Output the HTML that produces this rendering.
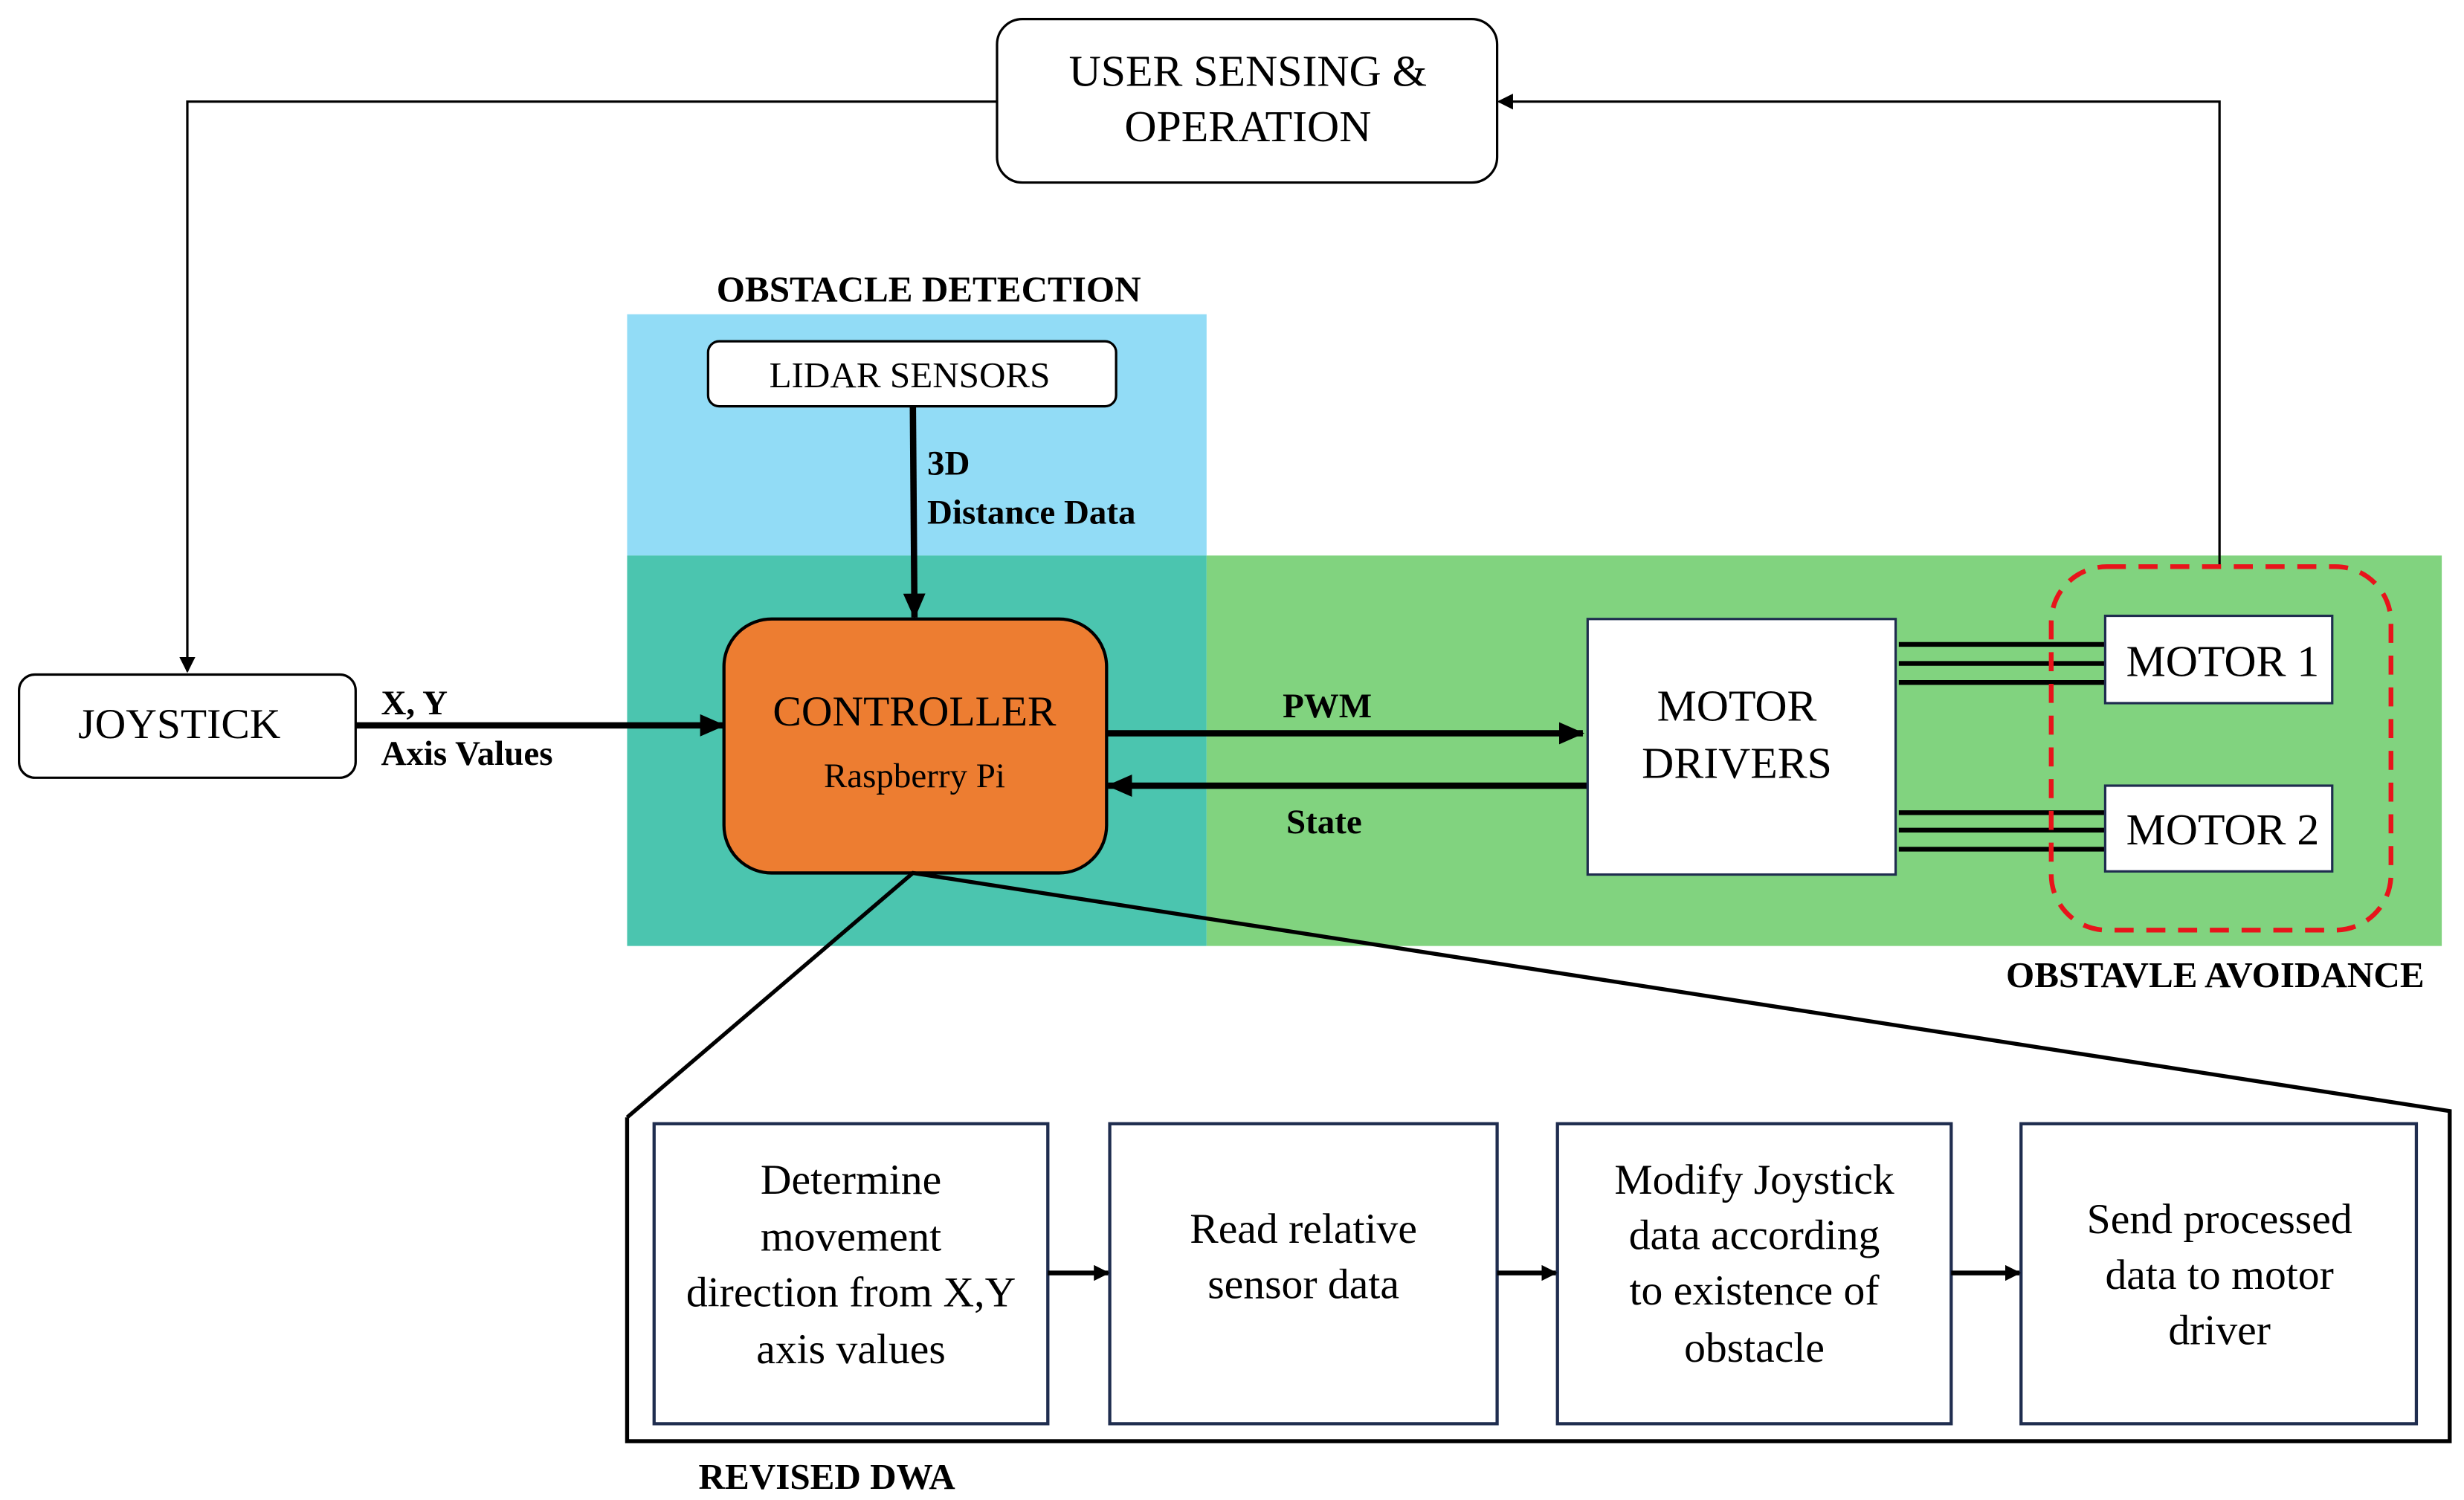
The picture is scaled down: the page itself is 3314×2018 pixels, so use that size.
<!DOCTYPE html>
<html><head><meta charset="utf-8"><style>html,body{margin:0;padding:0;background:#fff}svg{display:block}svg text{font-family:"Liberation Serif","Times New Roman",serif}</style></head>
<body>
<svg xmlns="http://www.w3.org/2000/svg" width="3314" height="2018" viewBox="0 0 1552 945.05" style="font-family:'Liberation Serif',serif">
<defs>
<marker id="a" markerWidth="10" markerHeight="10" refX="9" refY="5" orient="auto" markerUnits="userSpaceOnUse"><path d="M0,0 L10,5 L0,10 z" fill="#000"/></marker>
<marker id="b" markerWidth="16" markerHeight="14" refX="15" refY="7" orient="auto" markerUnits="userSpaceOnUse"><path d="M0,0 L16,7 L0,14 z" fill="#000"/></marker>
<marker id="c" markerWidth="10" markerHeight="10" refX="9" refY="5" orient="auto" markerUnits="userSpaceOnUse"><path d="M0,0 L10,5 L0,10 z" fill="#000"/></marker>
</defs>
<rect x="395" y="198" width="365" height="152" fill="#92DCF6"/>
<rect x="395" y="350" width="365" height="246" fill="#4BC5AF"/>
<rect x="760" y="350" width="778" height="246" fill="#81D37F"/>

<rect x="628" y="12" width="315" height="103" rx="16" fill="#fff" stroke="#000" stroke-width="1.5"/>
<text x="786" y="54" font-size="28" text-anchor="middle">USER SENSING &amp;</text>
<text x="786" y="89" font-size="28" text-anchor="middle">OPERATION</text>

<polyline points="628,64 118,64 118,423" fill="none" stroke="#000" stroke-width="1.5" marker-end="url(#a)"/>
<polyline points="1398,357 1398,64 944,64" fill="none" stroke="#000" stroke-width="1.5" marker-end="url(#a)"/>

<rect x="12" y="425" width="212" height="65" rx="10" fill="#fff" stroke="#000" stroke-width="1.5"/>
<text x="113" y="465" font-size="27" text-anchor="middle">JOYSTICK</text>
<text x="240" y="450" font-size="22" font-weight="bold">X, Y</text>
<text x="240" y="482" font-size="22" font-weight="bold">Axis Values</text>
<line x1="224" y1="457" x2="456" y2="457" stroke="#000" stroke-width="4" marker-end="url(#b)"/>

<text x="585" y="190" font-size="23" font-weight="bold" text-anchor="middle">OBSTACLE DETECTION</text>
<rect x="446" y="215" width="257" height="41" rx="7" fill="#fff" stroke="#000" stroke-width="1.5"/>
<text x="573" y="244" font-size="23" text-anchor="middle">LIDAR SENSORS</text>
<line x1="575" y1="256" x2="576" y2="389" stroke="#000" stroke-width="4" marker-end="url(#b)"/>
<text x="584" y="299" font-size="22" font-weight="bold">3D</text>
<text x="584" y="330" font-size="22" font-weight="bold">Distance Data</text>

<rect x="456" y="390" width="241" height="160" rx="30" fill="#ED7D31" stroke="#000" stroke-width="2"/>
<text x="576" y="457" font-size="27" text-anchor="middle">CONTROLLER</text>
<text x="576" y="496" font-size="22" text-anchor="middle">Raspberry Pi</text>

<line x1="697" y1="462" x2="997" y2="462" stroke="#000" stroke-width="4" marker-end="url(#b)"/>
<line x1="1000" y1="495" x2="698" y2="495" stroke="#000" stroke-width="4" marker-end="url(#b)"/>
<text x="836" y="452" font-size="22" font-weight="bold" text-anchor="middle">PWM</text>
<text x="834" y="525" font-size="22" font-weight="bold" text-anchor="middle">State</text>

<rect x="1000" y="390" width="194" height="161" fill="#fff" stroke="#1F2D4F" stroke-width="1.5"/>
<text x="1094" y="454" font-size="28" text-anchor="middle">MOTOR</text>
<text x="1094" y="490" font-size="28" text-anchor="middle">DRIVERS</text>

<g stroke="#000" stroke-width="3">
<line x1="1196" y1="406" x2="1326" y2="406"/><line x1="1196" y1="418" x2="1326" y2="418"/><line x1="1196" y1="430" x2="1326" y2="430"/>
<line x1="1196" y1="512" x2="1326" y2="512"/><line x1="1196" y1="523" x2="1326" y2="523"/><line x1="1196" y1="535" x2="1326" y2="535"/>
</g>
<rect x="1326" y="388" width="143" height="55" fill="#fff" stroke="#1F2D4F" stroke-width="1.5"/>
<text x="1400" y="426" font-size="28" text-anchor="middle">MOTOR 1</text>
<rect x="1326" y="495" width="143" height="54" fill="#fff" stroke="#1F2D4F" stroke-width="1.5"/>
<text x="1400" y="532" font-size="28" text-anchor="middle">MOTOR 2</text>
<rect x="1292" y="357" width="214" height="229" rx="35" fill="none" stroke="#E8141B" stroke-width="3" stroke-dasharray="12,8"/>
<text x="1527" y="622" font-size="23" font-weight="bold" text-anchor="end">OBSTAVLE AVOIDANCE</text>

<polyline points="395,704 575,550 1543,700 1543,908 395,908 395,704" fill="none" stroke="#000" stroke-width="2.5"/>

<g fill="#fff" stroke="#1F2D4F" stroke-width="2">
<rect x="412" y="708" width="248" height="189"/>
<rect x="699" y="708" width="244" height="189"/>
<rect x="981" y="708" width="248" height="189"/>
<rect x="1273" y="708" width="249" height="189"/>
</g>
<g stroke="#000" stroke-width="3">
<line x1="660" y1="802" x2="698" y2="802" marker-end="url(#c)"/>
<line x1="943" y1="802" x2="980" y2="802" marker-end="url(#c)"/>
<line x1="1229" y1="802" x2="1272" y2="802" marker-end="url(#c)"/>
</g>
<g font-size="27" text-anchor="middle">
<text x="536" y="752">Determine</text><text x="536" y="788">movement</text><text x="536" y="823">direction from X,Y</text><text x="536" y="859">axis values</text>
<text x="821" y="783">Read relative</text><text x="821" y="818">sensor data</text>
<text x="1105" y="752">Modify Joystick</text><text x="1105" y="787">data according</text><text x="1105" y="822">to existence of</text><text x="1105" y="858">obstacle</text>
<text x="1398" y="777">Send processed</text><text x="1398" y="812">data to motor</text><text x="1398" y="847">driver</text>
</g>
<text x="440" y="938" font-size="23" font-weight="bold">REVISED DWA</text>
</svg>
</body></html>
